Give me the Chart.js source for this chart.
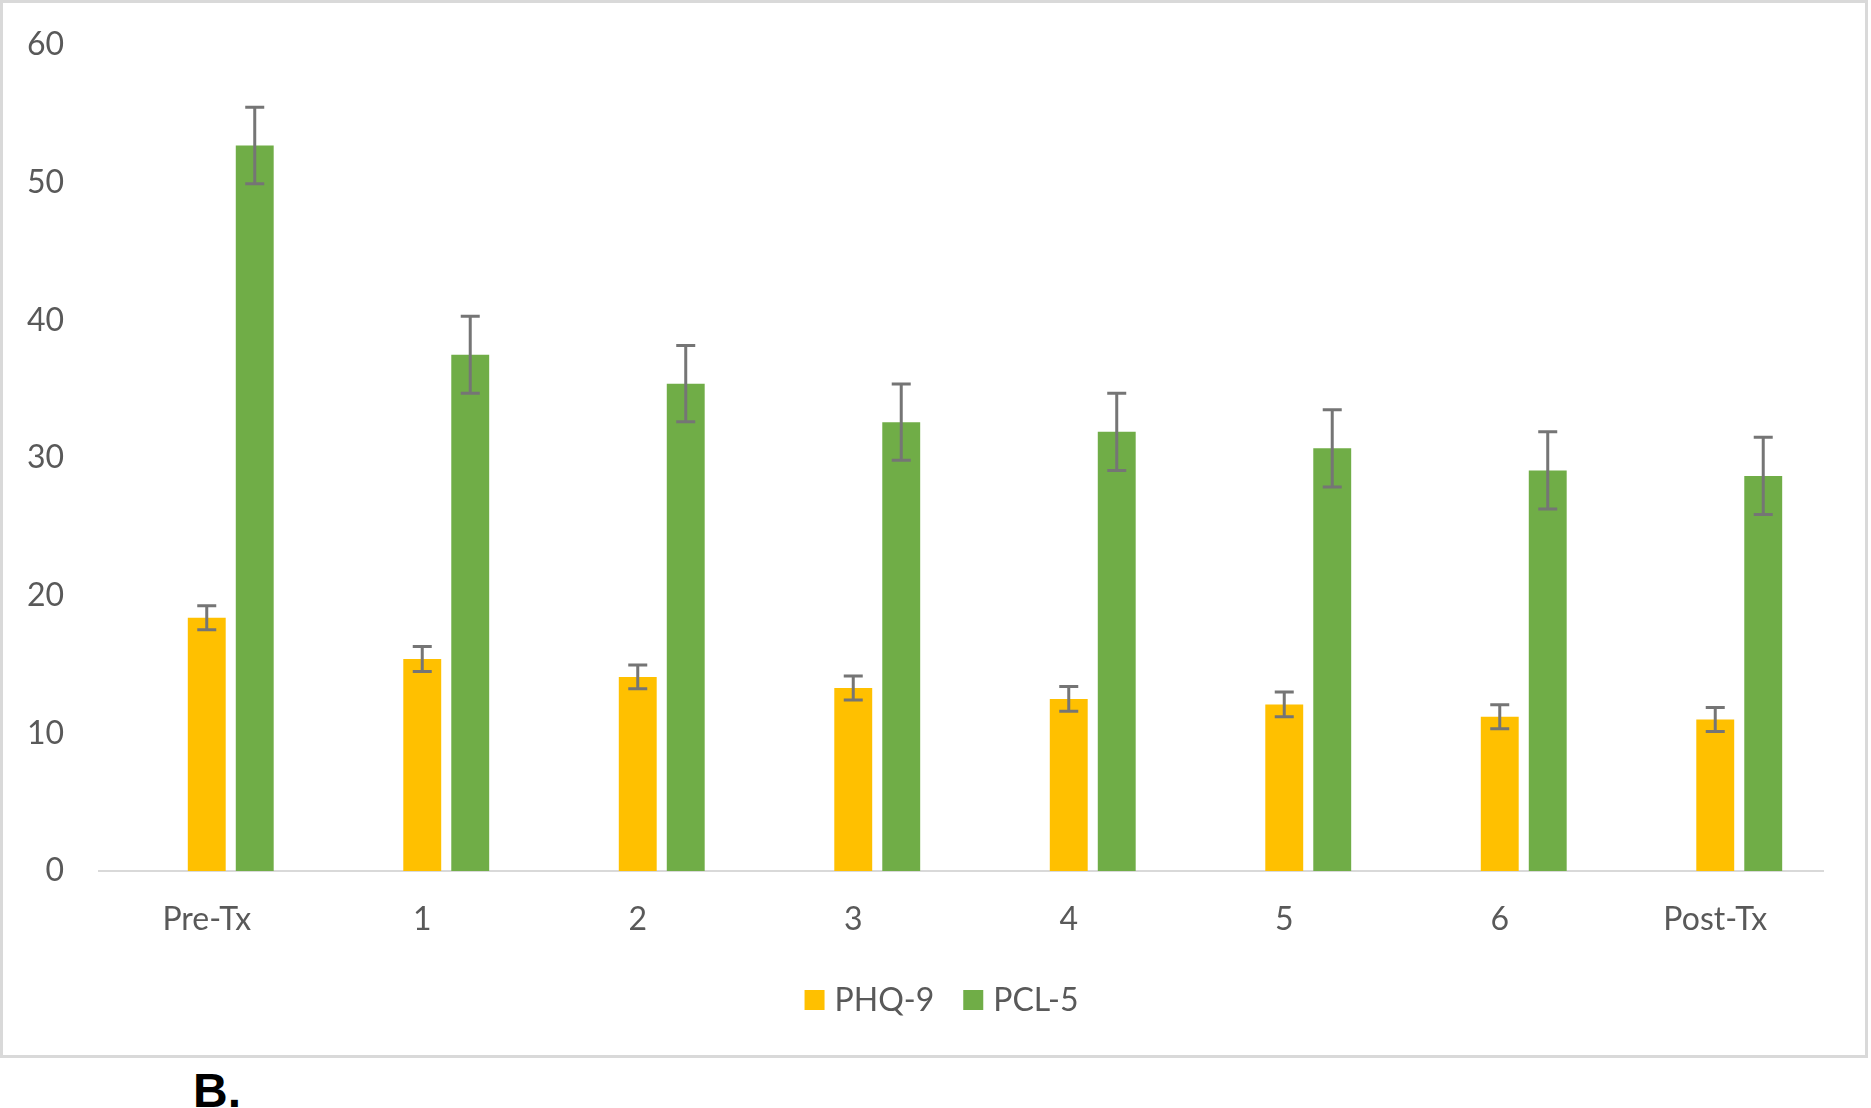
<!DOCTYPE html>
<html>
<head>
<meta charset="utf-8">
<script src="https://cdn.jsdelivr.net/npm/chart.js@4"></script>
<style>
  html, body { margin: 0; padding: 0; background: #ffffff; width: 1871px; height: 1108px; overflow: hidden; }
  #frame { position: absolute; left: 0; top: 0; width: 1868px; height: 1058px; box-sizing: border-box; border: 3px solid #d9d9d9; background: #fff; }
  #c { position: absolute; left: 0; top: 0; }
  #lbl { position: absolute; left: 193px; top: 1067px; font: bold 48px "Liberation Sans", Arial, sans-serif; line-height: 48px; color: #000; }
</style>
</head>
<body>
<div id="frame"><canvas id="c" width="1862" height="1052"></canvas></div>
<div id="lbl">B.</div>
<script>
const categories = ["Pre-Tx", "1", "2", "3", "4", "5", "6", "Post-Tx"];
const phq9 = [18.4, 15.4, 14.1, 13.3, 12.5, 12.1, 11.2, 11.0];
const phq9Err = [0.87, 0.9, 0.87, 0.87, 0.9, 0.9, 0.87, 0.87];
const pcl5 = [52.7, 37.5, 35.4, 32.6, 31.9, 30.7, 29.1, 28.7];
const pcl5Err = [2.77, 2.8, 2.77, 2.77, 2.8, 2.8, 2.8, 2.8];
const emptySlot = [null, null, null, null, null, null, null, null];
const yTicks = [0, 10, 20, 30, 40, 50, 60];

const FONT = "Lato, 'Open Sans', sans-serif";
const GRAY = "#595959";

const errorBars = {
  id: "errorBars",
  afterDatasetsDraw(chart) {
    const ctx = chart.ctx;
    const y = chart.scales.y;
    chart.data.datasets.forEach((ds, di) => {
      if (!ds.errors) return;
      const meta = chart.getDatasetMeta(di);
      meta.data.forEach((bar, i) => {
        const v = ds.data[i], e = ds.errors[i];
        if (v == null || e == null) return;
        const yt = y.getPixelForValue(v + e);
        const yb = y.getPixelForValue(v - e);
        const x = bar.x;
        ctx.save();
        ctx.strokeStyle = "#757575";
        ctx.lineWidth = 3;
        ctx.beginPath();
        ctx.moveTo(x, yt); ctx.lineTo(x, yb);
        ctx.moveTo(x - 9.5, yt); ctx.lineTo(x + 9.5, yt);
        ctx.moveTo(x - 9.5, yb); ctx.lineTo(x + 9.5, yb);
        ctx.stroke();
        ctx.restore();
      });
    });
  }
};

// simple legend drawn with the library's dataset labels/colours
const customLegend = {
  id: "customLegend",
  afterDraw(chart) {
    const ctx = chart.ctx;
    const items = chart.data.datasets.filter(d => !d.hiddenLegend);
    const box = 20, textGap = 10, itemGap = 29, cy = 997, cx = 938.5;
    ctx.save();
    ctx.font = "32px " + FONT;
    const widths = items.map(d => box + textGap + ctx.measureText(d.label).width);
    const total = widths.reduce((a, b) => a + b, 0) + itemGap * (items.length - 1);
    let x = cx - total / 2;
    items.forEach((d, i) => {
      ctx.fillStyle = d.backgroundColor;
      ctx.fillRect(x, cy - box / 2, box, box);
      ctx.fillStyle = GRAY;
      ctx.textBaseline = "middle";
      ctx.textAlign = "left";
      ctx.fillText(d.label, x + box + textGap, cy + 1);
      x += widths[i] + itemGap;
    });
    ctx.restore();
  }
};

new Chart(document.getElementById("c"), {
  type: "bar",
  data: {
    labels: categories,
    datasets: [
      { label: "", data: emptySlot, backgroundColor: "rgba(0,0,0,0)", hiddenLegend: true },
      { label: "PHQ-9", data: phq9, errors: phq9Err, backgroundColor: "#FFC000" },
      { label: "PCL-5", data: pcl5, errors: pcl5Err, backgroundColor: "#70AD47" }
    ]
  },
  options: {
    responsive: false,
    animation: false,
    barPercentage: 0.79,
    categoryPercentage: 0.668,
    layout: { padding: { left: 0, right: 42, top: 42, bottom: 0 } },
    plugins: {
      tooltip: { enabled: false },
      legend: { display: false }
    },
    scales: {
      x: {
        grid: { display: false, drawTicks: false },
        border: { display: true, color: "#d9d9d9", width: 2 },
        ticks: { color: GRAY, font: { family: FONT, size: 32 }, padding: 29, maxRotation: 0 },
        afterFit: (s) => { s.height = 184; }
      },
      y: {
        min: 0, max: 60,
        afterBuildTicks: (s) => { s.ticks = yTicks.map(v => ({ value: v })); },
        grid: { display: false, drawTicks: false },
        border: { display: false },
        ticks: { color: GRAY, font: { family: FONT, size: 32 }, padding: 35 },
        afterFit: (s) => { s.width = 96; s.paddingTop = 0; s.paddingBottom = 0; }
      }
    }
  },
  plugins: [errorBars, customLegend]
});
</script>
</body>
</html>
